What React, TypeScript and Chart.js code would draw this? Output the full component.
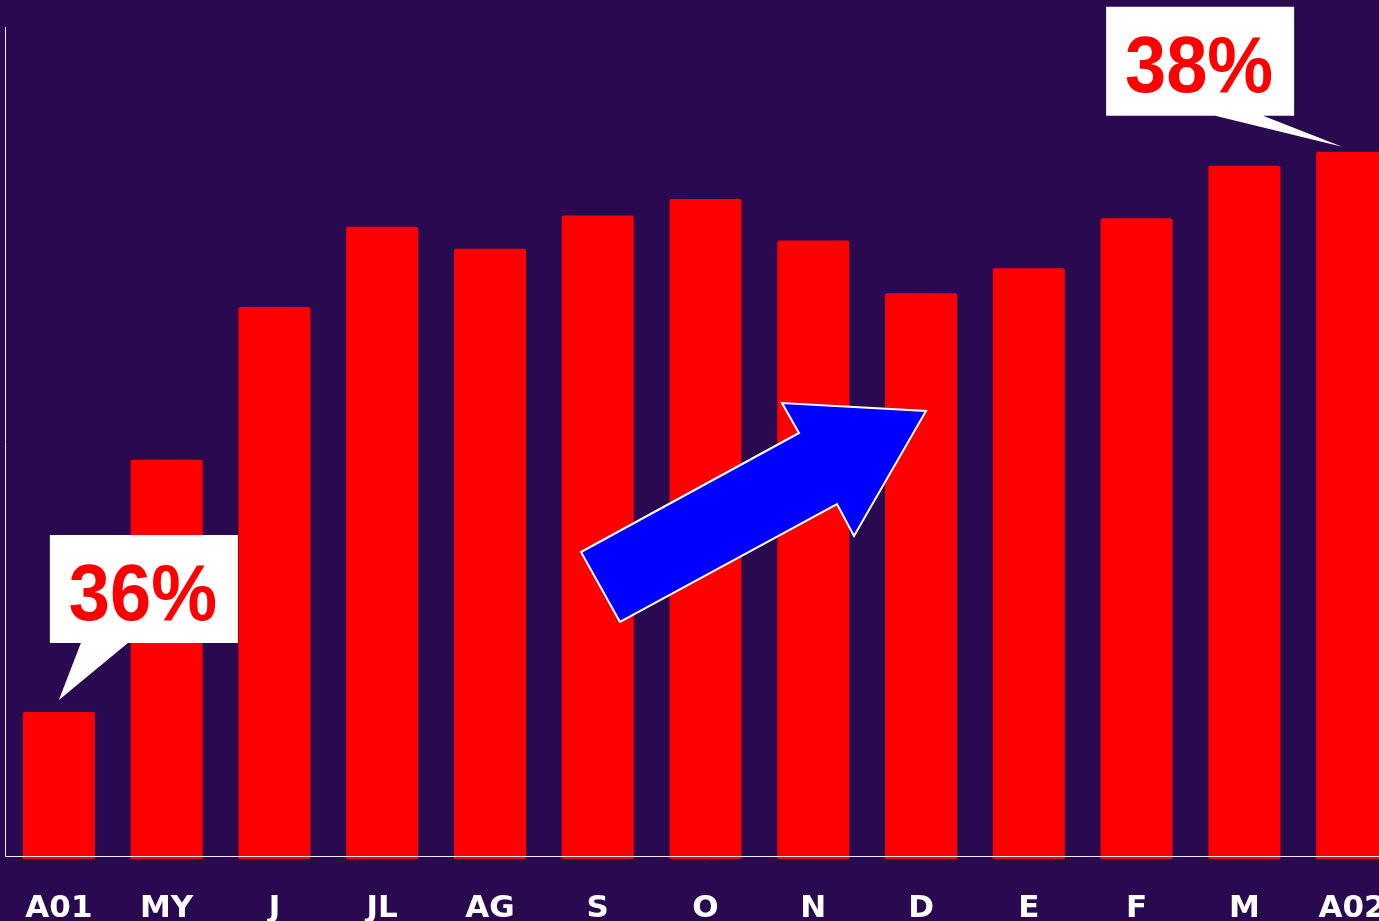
import React, { useEffect, useRef } from "react";
import { Chart, registerables } from "chart.js";

Chart.register(...registerables);

const categories = ["A01", "MY", "J", "JL", "AG", "S", "O", "N", "D", "E", "F", "M", "A02"];
const shareValues = [36.03, 36.94, 37.49, 37.78, 37.7, 37.82, 37.88, 37.73, 37.54, 37.63, 37.81, 38.0, 38.05];
const calloutLabels = ["36%", "38%"];
const yMin = 35.5;
const yMax = 38.5;

const BG = "#290a50";
const W = 1406;
const H = 930;

const overlayPlugin = {
  id: "overlay",
  beforeDraw(chart: any) {
    const { ctx } = chart;
    ctx.save();
    ctx.fillStyle = BG;
    ctx.fillRect(0, 0, chart.width, chart.height);
    ctx.restore();
  },
  afterDatasetsDraw(chart: any) {
    const { ctx, chartArea } = chart;
    const meta = chart.getDatasetMeta(0);
    const xScale = chart.scales.x;
    ctx.save();
    // axis lines
    ctx.strokeStyle = "#f0ecff";
    ctx.lineWidth = 1;
    ctx.beginPath();
    ctx.moveTo(5.5, chartArea.top);
    ctx.lineTo(5.5, chartArea.bottom - 2.5);
    ctx.lineTo(chart.width, chartArea.bottom - 2.5);
    ctx.stroke();

    // category labels at the x scale's tick positions
    ctx.save();
    ctx.fillStyle = "#ffffff";
    ctx.font = "bold 31px 'DejaVu Sans', Verdana, sans-serif";
    ctx.textAlign = "center";
    ctx.textBaseline = "alphabetic";
    (chart.data.labels as string[]).forEach((lab, i) => {
      const x = xScale.getPixelForTick(i);
      ctx.fillText(lab, x, chartArea.bottom + 58);
    });
    ctx.restore();

    // blue arrow
    const arrow = [
      [620, 622], [581, 552], [799, 433], [782, 403], [926, 411], [854, 536], [837, 504],
    ];
    ctx.beginPath();
    arrow.forEach(([x, y], i) => (i === 0 ? ctx.moveTo(x, y) : ctx.lineTo(x, y)));
    ctx.closePath();
    ctx.fillStyle = "#0000ff";
    ctx.fill();
    ctx.strokeStyle = "#ffffff";
    ctx.lineWidth = 2;
    ctx.lineJoin = "miter";
    ctx.stroke();

    const drawCallout = (tipX: number, tipY: number, box: number[], tail: number[], label: string) => {
      const [bl, bt, br, bb] = box;
      ctx.beginPath();
      ctx.moveTo(bl, bt);
      ctx.lineTo(br, bt);
      ctx.lineTo(br, bb);
      ctx.lineTo(tail[1], bb);
      ctx.lineTo(tipX, tipY);
      ctx.lineTo(tail[0], bb);
      ctx.lineTo(bl, bb);
      ctx.closePath();
      ctx.fillStyle = "#ffffff";
      ctx.fill();
      ctx.save();
      ctx.fillStyle = "#ff0000";
      ctx.font = "bold 74px 'Liberation Sans', Arial, Helvetica, sans-serif";
      ctx.textAlign = "center";
      ctx.textBaseline = "alphabetic";
      const cx = (bl + br) / 2 - 1;
      const by = bb - 23.5;
      ctx.translate(cx, by);
      ctx.scale(1, 1.07);
      ctx.fillText(label, 0, 0);
      ctx.restore();
    };

    const first = meta.data[0];
    const last = meta.data[meta.data.length - 1];
    if (first) {
      const tx = first.x;
      const ty = first.y - 12;
      drawCallout(tx, ty, [tx - 9, ty - 165, tx + 179, ty - 57], [tx + 22, tx + 69], calloutLabels[0]);
    }
    if (last) {
      const tx = last.x - 10;
      const ty = last.y - 5;
      drawCallout(tx, ty, [tx - 236, ty - 140, tx - 48, ty - 31], [tx - 127, tx - 79], calloutLabels[1]);
    }
    ctx.restore();
  },
};

export default function App() {
  const ref = useRef<HTMLCanvasElement | null>(null);
  useEffect(() => {
    if (!ref.current) return;
    const chart = new Chart(ref.current, {
      type: "bar",
      data: {
        labels: categories,
        datasets: [
          {
            data: shareValues,
            backgroundColor: "#ff0000",
            borderWidth: 0,
            borderRadius: 2,
            borderSkipped: "bottom",
            categoryPercentage: 1,
            barPercentage: 0.668,
          },
        ],
      },
      options: {
        responsive: false,
        animation: false,
        layout: { padding: { left: 5, right: 0, top: 27, bottom: 0 } },
        plugins: { legend: { display: false }, tooltip: { enabled: false } },
        scales: {
          y: { display: false, min: yMin, max: yMax },
          x: {
            grid: { display: false, drawTicks: false },
            border: { display: false },
            ticks: { display: false, padding: 0, autoSkip: false, maxRotation: 0 },
            afterFit: (scale: any) => {
              scale.height = H - 859;
              scale.paddingLeft = 0;
              scale.paddingRight = 0;
            },
          },
        },
      },
      plugins: [overlayPlugin],
    });
    return () => chart.destroy();
  }, []);

  return (
    <div
      style={{
        position: "fixed",
        left: 0,
        top: 0,
        width: "100vw",
        height: "100vh",
        overflow: "hidden",
        background: BG,
      }}
    >
      <canvas ref={ref} width={W} height={H} style={{ display: "block", width: W, height: H }} />
    </div>
  );
}
